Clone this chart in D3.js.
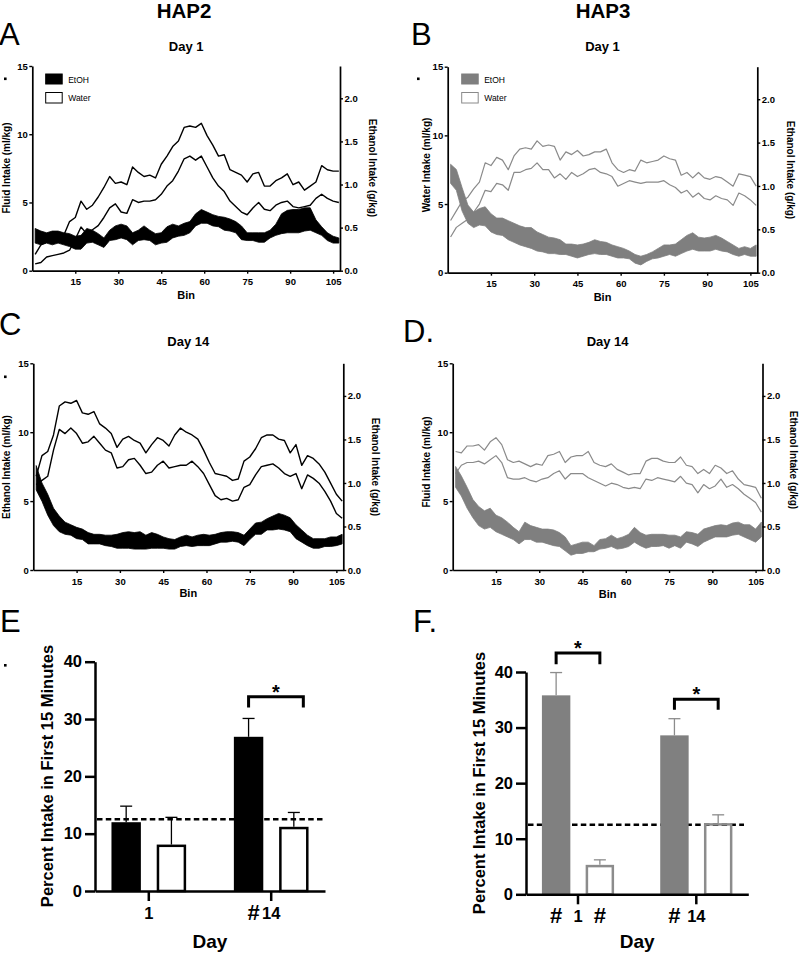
<!DOCTYPE html>
<html><head><meta charset="utf-8">
<script src="https://cdn.jsdelivr.net/npm/d3@7"></script>
<style>body{margin:0;background:#fff}svg{display:block}</style>
</head><body><svg id="fig" width="800" height="953"></svg>
<script>
// ---------------- DATA ----------------
const bins = [1,3,5,7,9,11,13,15,17,19,21,23,25,27,29,31,33,35,37,39,41,43,45,47,49,51,53,55,57,59,61,63,65,67,69,71,73,75,77,79,81,83,85,87,89,91,93,95,97,99,101,103,105,107];
const binTicks = [15,30,45,60,75,90,105];
const fluidTicks = [0,5,10,15];
const ethanolTicks = [0,0.5,1.0,1.5,2.0];

// HAP2 Day 1 (panel A)
const hap2D1WaterHi = [1.2,1.9,2.1,2.3,2.4,2.6,3.6,3.9,5.1,4.5,4.8,5.4,6.1,6.9,6.4,6.5,6.3,7.6,7.2,6.9,7.0,6.8,7.8,8.4,9.1,9.5,10.5,10.6,10.5,10.8,9.9,9.2,8.4,8.5,7.4,7.2,7.0,6.5,7.1,7.2,6.2,6.2,6.6,6.8,7.1,6.3,6.5,5.9,6.2,6.5,7.7,7.4,7.3,7.3];
const hap2D1WaterLo = [0.5,0.6,1.0,1.1,1.2,1.3,1.5,2.3,3.2,2.7,3.0,3.3,3.9,4.6,4.9,4.3,4.2,5.2,5.0,5.1,5.1,5.2,5.6,6.2,6.6,7.3,8.2,8.4,8.1,8.4,7.6,6.8,6.2,5.8,5.1,4.7,4.3,4.1,4.6,5.0,4.5,4.4,4.8,5.0,5.1,4.7,4.6,4.7,4.8,5.3,5.6,5.3,5.1,5.0];
const hap2D1EtohHi = [0.49,0.46,0.44,0.46,0.46,0.44,0.43,0.40,0.41,0.49,0.47,0.43,0.38,0.47,0.52,0.54,0.52,0.44,0.47,0.52,0.47,0.43,0.44,0.51,0.54,0.52,0.55,0.57,0.66,0.71,0.68,0.65,0.63,0.62,0.60,0.57,0.52,0.44,0.44,0.44,0.44,0.47,0.54,0.66,0.70,0.71,0.71,0.73,0.73,0.59,0.51,0.44,0.40,0.38];
const hap2D1EtohLo = [0.32,0.30,0.32,0.30,0.32,0.30,0.28,0.25,0.25,0.32,0.33,0.30,0.27,0.35,0.36,0.38,0.36,0.30,0.35,0.36,0.35,0.30,0.32,0.33,0.38,0.40,0.41,0.44,0.52,0.55,0.55,0.52,0.51,0.47,0.46,0.44,0.36,0.35,0.35,0.33,0.33,0.38,0.41,0.43,0.44,0.44,0.44,0.46,0.47,0.44,0.41,0.35,0.32,0.32];

// HAP3 Day 1 (panel B)
const hap3D1WaterHi = [3.8,4.5,5.2,5.5,6.1,6.6,8.0,7.8,8.4,8.2,7.5,8.5,9.0,9.1,9.0,9.6,9.2,9.3,9.2,8.2,8.8,8.6,8.9,8.5,8.6,8.8,8.8,9.0,8.0,7.5,7.3,7.5,7.4,8.2,8.0,8.1,8.2,8.5,8.3,8.2,7.1,7.3,6.9,7.3,6.9,6.8,7.0,6.9,6.6,6.3,7.2,7.1,7.0,6.3];
const hap3D1WaterLo = [2.6,3.3,3.6,3.9,4.4,5.0,6.0,5.9,6.5,6.4,6.0,7.3,7.3,7.5,7.6,8.0,7.5,7.5,6.9,7.2,6.8,7.3,7.0,7.2,7.5,7.6,7.3,7.2,7.0,6.3,6.5,6.7,6.6,6.5,6.6,6.6,6.6,6.7,6.4,6.2,5.8,6.0,5.5,5.8,5.4,5.3,5.6,5.4,5.3,4.9,5.8,5.6,5.3,4.9];
const hap3D1EtohHi = [1.25,1.19,0.98,0.78,0.70,0.74,0.76,0.68,0.63,0.63,0.60,0.57,0.54,0.52,0.52,0.47,0.44,0.41,0.40,0.38,0.33,0.33,0.32,0.33,0.35,0.38,0.36,0.35,0.32,0.30,0.28,0.25,0.21,0.19,0.21,0.24,0.28,0.32,0.32,0.33,0.38,0.43,0.46,0.41,0.40,0.41,0.43,0.40,0.36,0.32,0.28,0.30,0.28,0.32];
const hap3D1EtohLo = [1.03,0.95,0.71,0.57,0.52,0.55,0.54,0.47,0.44,0.43,0.38,0.35,0.32,0.30,0.28,0.25,0.24,0.22,0.22,0.21,0.21,0.19,0.17,0.19,0.21,0.22,0.21,0.21,0.19,0.17,0.17,0.16,0.11,0.09,0.13,0.16,0.17,0.19,0.21,0.19,0.22,0.25,0.27,0.25,0.25,0.25,0.27,0.25,0.24,0.21,0.19,0.21,0.19,0.19];

// HAP2 Day 14 (panel C)
const hap2D14WaterHi = [6.8,8.3,8.6,9.8,11.9,12.2,12.1,12.3,11.4,11.3,11.5,10.6,10.3,9.9,8.9,9.5,9.7,9.4,9.2,8.5,9.1,9.6,9.4,9.0,9.8,10.3,10.0,9.8,9.5,8.7,7.8,7.0,6.9,6.8,6.5,6.6,7.9,8.2,8.8,9.6,9.8,9.8,9.5,9.4,8.5,9.1,7.6,8.3,8.1,7.7,7.1,6.3,5.5,5.0];
const hap2D14WaterLo = [6.2,6.5,6.8,8.7,10.2,9.9,10.3,9.9,9.2,9.3,9.7,9.2,8.7,8.5,7.4,7.5,8.0,8.1,7.6,7.0,7.1,7.6,7.9,7.4,7.5,7.6,7.6,7.9,7.5,7.0,6.2,5.4,5.1,5.2,5.0,5.1,6.0,6.2,6.9,7.5,7.6,7.7,7.4,7.0,6.8,7.0,5.9,6.9,6.65,6.3,5.7,5.0,4.1,3.75];
const hap2D14EtohHi = [1.20,1.00,0.87,0.71,0.62,0.55,0.52,0.49,0.47,0.43,0.41,0.41,0.40,0.40,0.41,0.43,0.44,0.43,0.44,0.40,0.43,0.41,0.38,0.36,0.35,0.38,0.40,0.38,0.40,0.41,0.40,0.41,0.43,0.44,0.44,0.43,0.40,0.47,0.54,0.55,0.59,0.62,0.65,0.63,0.60,0.52,0.46,0.40,0.36,0.36,0.36,0.38,0.38,0.41];
const hap2D14EtohLo = [0.92,0.79,0.63,0.51,0.44,0.41,0.40,0.36,0.35,0.30,0.30,0.30,0.28,0.27,0.25,0.25,0.25,0.24,0.24,0.24,0.25,0.25,0.25,0.24,0.24,0.27,0.28,0.27,0.28,0.28,0.28,0.30,0.32,0.32,0.33,0.32,0.28,0.35,0.41,0.41,0.46,0.46,0.47,0.46,0.44,0.36,0.32,0.28,0.25,0.25,0.27,0.27,0.28,0.30];

// HAP3 Day 14 (panel D)
const hap3D14WaterHi = [8.6,8.5,9.0,9.0,9.1,8.7,9.3,9.6,9.1,8.0,7.8,7.9,7.7,7.5,7.7,7.6,8.3,8.4,8.6,7.8,8.2,8.3,8.3,8.6,7.8,7.6,7.5,7.7,7.3,7.1,6.9,7.0,7.0,7.9,8.1,8.1,7.9,7.8,7.8,8.2,7.6,7.5,7.0,7.3,7.0,7.6,7.4,7.0,7.2,6.6,6.2,6.1,6.0,5.2];
const hap3D14WaterLo = [7.0,7.6,7.8,7.8,7.9,7.7,8.0,8.3,7.8,6.7,6.6,6.6,6.7,6.5,6.4,6.6,6.7,7.0,7.2,6.6,7.0,7.0,7.0,6.7,6.5,6.3,6.1,6.3,6.2,6.0,5.9,6.0,5.9,6.6,6.5,6.7,6.6,6.5,6.4,6.8,6.3,6.2,5.6,6.2,5.9,6.1,6.6,6.0,6.2,5.9,5.5,5.2,4.9,4.2];
const hap3D14EtohHi = [1.19,1.08,0.95,0.81,0.73,0.68,0.71,0.63,0.60,0.55,0.49,0.44,0.55,0.51,0.49,0.47,0.47,0.46,0.43,0.38,0.28,0.30,0.32,0.32,0.28,0.35,0.36,0.40,0.36,0.38,0.41,0.49,0.43,0.40,0.41,0.41,0.41,0.40,0.40,0.38,0.44,0.43,0.41,0.47,0.49,0.51,0.52,0.51,0.54,0.55,0.52,0.52,0.47,0.55];
const hap3D14EtohLo = [0.95,0.85,0.71,0.60,0.51,0.47,0.49,0.44,0.41,0.38,0.35,0.30,0.35,0.35,0.32,0.32,0.30,0.28,0.27,0.22,0.17,0.19,0.19,0.21,0.21,0.24,0.25,0.27,0.24,0.25,0.27,0.32,0.28,0.25,0.27,0.27,0.28,0.25,0.28,0.25,0.32,0.30,0.27,0.32,0.35,0.38,0.38,0.38,0.40,0.41,0.38,0.35,0.32,0.38];

// Bar charts (E, F): percent intake in first 15 minutes
const days = ["1","14"];
const fluids = ["EtOH","Water"];
const pctTicks = [0,10,20,30,40];
const chanceLevel = 12.5;
const hap2PctMean = [12.0, 8.1, 26.9, 11.2];   // d1 EtOH, d1 Water, d14 EtOH, d14 Water
const hap2PctSem  = [2.8, 4.75, 3.2, 2.5];
const hap3PctMean = [35.8, 5.3, 28.6, 12.8];
const hap3PctSem  = [4.1, 0.9, 3.0, 1.5];
const hap2Sig = [{day:"14", top:33.9, leg:32.0}];
const hap3Sig = [{day:"1", top:43.4, leg:41.4},{day:"14", top:35.1, leg:33.2}];
const hap2Hash = [{day:"14", fluid:"EtOH"}];
const hap3Hash = [{day:"1", fluid:"EtOH"},{day:"1", fluid:"Water"},{day:"14", fluid:"EtOH"}];

// ---------------- DRAWING ----------------
const FONT = '"Liberation Sans", Arial, Helvetica, sans-serif';
const svg = d3.select("#fig");
function txt(x, y, s, size, o = {}) {
  const t = svg.append("text").attr("x", x).attr("y", y).text(s)
    .style("font-family", FONT).style("font-size", size + "px")
    .style("font-weight", o.bold ? "bold" : "normal")
    .attr("text-anchor", o.anchor || "start").attr("fill", o.fill || "#000");
  if (o.rot) t.attr("transform", `rotate(${o.rot},${x},${y})`);
  return t;
}

const binDomain = [0, 107.4];
const fluidDomain = [0, 15];
const ethanolDomain = [0, 2.375];

function linePanel(p) {
  const g = svg.append("g");
  const x = d3.scaleLinear().domain(binDomain).range([p.l, p.r]);
  const yL = d3.scaleLinear().domain(fluidDomain).range([p.b, p.t]);
  const yR = d3.scaleLinear().domain(ethanolDomain).range([p.b, p.t]);
  const idx = d3.range(bins.length);
  g.append("path").datum(idx)
    .attr("d", d3.area().x(i => x(bins[i])).y0(i => yL(p.wLo[i])).y1(i => yL(p.wHi[i])))
    .attr("fill", "#fff");
  [p.wHi, p.wLo].forEach(arr => {
    g.append("path").datum(idx)
      .attr("d", d3.line().x(i => x(bins[i])).y(i => yL(arr[i])))
      .attr("fill", "none").attr("stroke", p.line).attr("stroke-width", p.lineW)
      .attr("stroke-linejoin", "round");
  });
  g.append("path").datum(idx)
    .attr("d", d3.area().x(i => x(bins[i])).y0(i => yR(p.eLo[i])).y1(i => yR(p.eHi[i])))
    .attr("fill", p.fill).attr("stroke", p.fill).attr("stroke-width", 0.8);

  const ax = g.append("g").attr("transform", `translate(0,${p.b})`)
    .call(d3.axisBottom(x).tickValues(binTicks).tickSize(3).tickSizeOuter(0).tickPadding(5));
  const ay = g.append("g").attr("transform", `translate(${p.l},0)`)
    .call(d3.axisLeft(yL).tickValues(fluidTicks).tickSize(3).tickSizeOuter(0).tickPadding(1.5));
  const ar = g.append("g").attr("transform", `translate(${p.r},0)`)
    .call(d3.axisRight(yR).tickValues(ethanolTicks).tickFormat(d3.format(".1f")).tickSize(3).tickSizeOuter(0).tickPadding(1.5));
  [ax, ay, ar].forEach(a => {
    a.select(".domain").attr("stroke-width", 1.7).attr("stroke", "#000");
    a.selectAll(".tick line").attr("stroke-width", 1.4).attr("stroke", "#000");
    a.selectAll("text").style("font-family", FONT).style("font-size", "9.5px")
      .style("font-weight", "bold").attr("fill", "#000");
  });
  txt((p.l + p.r) / 2, p.binY, "Bin", 11, {bold: true, anchor: "middle"});
  txt((p.l + p.r) / 2, p.titleY, p.title, 13, {bold: true, anchor: "middle"});
  txt(p.ylx, p.ylCy, p.yLabel, 10, {bold: true, anchor: "middle", rot: -90});
  txt(p.yrx, p.yrCy, "Ethanol Intake (g/kg)", 10, {bold: true, anchor: "middle", rot: 90});
}

function legend(x, y, fill, stroke) {
  svg.append("rect").attr("x", x).attr("y", y).attr("width", 16.5).attr("height", 10)
    .attr("fill", fill).attr("stroke", fill).attr("stroke-width", 1);
  svg.append("rect").attr("x", x).attr("y", y + 18.5).attr("width", 16.5).attr("height", 10.5)
    .attr("fill", "#fff").attr("stroke", stroke).attr("stroke-width", 1);
  txt(x + 22.5, y + 8.5, "EtOH", 8.5);
  txt(x + 22.5, y + 27, "Water", 8.5);
}

function barPanel(p) {
  const g = svg.append("g");
  const x0 = d3.scaleBand().domain(days).range([p.l, p.r]).paddingInner(0.39).paddingOuter(0.1345);
  const x1 = d3.scaleBand().domain(fluids).range([0, x0.bandwidth()]).paddingInner(0.35).paddingOuter(0);
  const y = d3.scaleLinear().domain([0, 40]).range([p.b, p.t]);
  const cx = (d, f) => x0(d) + x1(f) + x1.bandwidth() / 2;
  const sw = 2.5;
  // chance line (behind the bars)
  g.append("line").attr("x1", p.l + 2).attr("x2", p.dashEnd).attr("y1", y(chanceLevel)).attr("y2", y(chanceLevel))
    .attr("stroke", "#000").attr("stroke-width", 2.5).attr("stroke-dasharray", "5.5,3.3");
  days.forEach((d, di) => fluids.forEach((f, fi) => {
    const k = di * 2 + fi, m = p.mean[k], s = p.sem[k];
    const bx = x0(d) + x1(f), bw = x1.bandwidth();
    const c = cx(d, f);
    const col = f === "EtOH" ? p.errE : p.errW;
    g.append("line").attr("x1", c).attr("x2", c).attr("y1", y(m)).attr("y2", y(m + s))
      .attr("stroke", col).attr("stroke-width", 1.3);
    g.append("line").attr("x1", c - 6).attr("x2", c + 6).attr("y1", y(m + s)).attr("y2", y(m + s))
      .attr("stroke", col).attr("stroke-width", 1.3);
    if (f === "EtOH") {
      g.append("rect").attr("x", bx).attr("y", y(m)).attr("width", bw).attr("height", y(0) - y(m))
        .attr("fill", p.etohFill);
    } else {
      g.append("rect").attr("x", bx + sw / 2).attr("y", y(m) + sw / 2).attr("width", bw - sw)
        .attr("height", y(0) - y(m) - sw / 2).attr("fill", "none")
        .attr("stroke", p.waterStroke).attr("stroke-width", sw);
    }
  }));
  // significance brackets
  p.sig.forEach(s => {
    const xl = cx(s.day, "EtOH"), xr = cx(s.day, "Water") + p.sigOff;
    g.append("path").attr("d", `M${xl},${y(s.leg)}V${y(s.top)}H${xr}V${y(s.leg)}`)
      .attr("fill", "none").attr("stroke", "#000").attr("stroke-width", 3);
    txt((xl + xr) / 2, y(s.top) + 2, "*", 20, {bold: true, anchor: "middle"});
  });
  // axes
  const ax = g.append("g").attr("transform", `translate(0,${p.b})`)
    .call(d3.axisBottom(x0).tickSize(10).tickSizeOuter(0).tickPadding(6));
  const ay = g.append("g").attr("transform", `translate(${p.l},0)`)
    .call(d3.axisLeft(y).tickValues(pctTicks).tickSize(10).tickSizeOuter(0).tickPadding(3));
  [ax, ay].forEach(a => {
    a.select(".domain").attr("stroke-width", 2.5).attr("stroke", "#000");
    a.selectAll(".tick line").attr("stroke-width", 2.5).attr("stroke", "#000");
    a.selectAll("text").style("font-family", FONT).style("font-size", "16.5px")
      .style("font-weight", "bold").attr("fill", "#000");
  });
  p.hash.forEach(h => txt(cx(h.day, h.fluid) + p.hashOff, p.b + 29, "#", 22, {bold: true, anchor: "middle"}));
  txt((p.l + p.r) / 2, 948, "Day", 19, {bold: true, anchor: "middle"});
  txt(p.ylx, p.ylCy, "Percent Intake in First 15 Minutes", 16.5, {bold: true, anchor: "middle", rot: -90});
}

// headers and panel letters
txt(184, 17.5, "HAP2", 20.5, {bold: true, anchor: "middle"});
txt(603, 17.5, "HAP3", 20.5, {bold: true, anchor: "middle"});
txt(-1, 45, "A", 31);
txt(411, 45, "B", 31);
txt(-1, 335, "C", 31);
txt(403, 342, "D.", 31);
txt(0, 632, "E", 31);
txt(413, 632, "F.", 31);
// small stray marks
[[4, 77.5], [417, 77.5], [4, 375.5], [4, 664]].forEach(([a, b]) =>
  svg.append("rect").attr("x", a).attr("y", b).attr("width", 2.6).attr("height", 2.6).attr("fill", "#000"));

linePanel({l: 32.3, r: 340, t: 66, b: 270.7, wHi: hap2D1WaterHi, wLo: hap2D1WaterLo, eHi: hap2D1EtohHi, eLo: hap2D1EtohLo,
  fill: "#000", line: "#000", lineW: 1.4, title: "Day 1", titleY: 51, binY: 299,
  yLabel: "Fluid Intake (ml/kg)", ylx: 10, ylCy: 168, yrx: 369, yrCy: 168});
linePanel({l: 447.7, r: 757.3, t: 66.7, b: 272.7, wHi: hap3D1WaterHi, wLo: hap3D1WaterLo, eHi: hap3D1EtohHi, eLo: hap3D1EtohLo,
  fill: "#7f7f7f", line: "#8a8a8a", lineW: 1.2, title: "Day 1", titleY: 51, binY: 300.5,
  yLabel: "Water Intake (ml/kg)", ylx: 430, ylCy: 165, yrx: 787, yrCy: 170});
linePanel({l: 33.3, r: 343.3, t: 363.3, b: 570, wHi: hap2D14WaterHi, wLo: hap2D14WaterLo, eHi: hap2D14EtohHi, eLo: hap2D14EtohLo,
  fill: "#000", line: "#000", lineW: 1.4, title: "Day 14", titleY: 345.5, binY: 597,
  yLabel: "Ethanol Intake (ml/kg)", ylx: 10, ylCy: 467, yrx: 372, yrCy: 467});
linePanel({l: 452.7, r: 762.5, t: 363.3, b: 570, wHi: hap3D14WaterHi, wLo: hap3D14WaterLo, eHi: hap3D14EtohHi, eLo: hap3D14EtohLo,
  fill: "#7f7f7f", line: "#8a8a8a", lineW: 1.2, title: "Day 14", titleY: 345.5, binY: 598,
  yLabel: "Fluid Intake (ml/kg)", ylx: 430, ylCy: 462, yrx: 790, yrCy: 460});

legend(45.7, 74, "#000", "#000");
legend(461.7, 74, "#7f7f7f", "#8a8a8a");

barPanel({l: 95, r: 325, t: 661.7, b: 891, mean: hap2PctMean, sem: hap2PctSem, etohFill: "#000", waterStroke: "#000",
  errE: "#000", errW: "#000", sig: hap2Sig, sigOff: 9.5, hash: hap2Hash, hashOff: 5, dashEnd: 325, ylx: 53, ylCy: 776});
barPanel({l: 526, r: 748.3, t: 672, b: 894.3, mean: hap3PctMean, sem: hap3PctSem, etohFill: "#808080", waterStroke: "#8c8c8c",
  errE: "#8c8c8c", errW: "#8c8c8c", sig: hap3Sig, sigOff: 0, hash: hap3Hash, hashOff: 0, dashEnd: 744, ylx: 485, ylCy: 783});
</script></body></html>
